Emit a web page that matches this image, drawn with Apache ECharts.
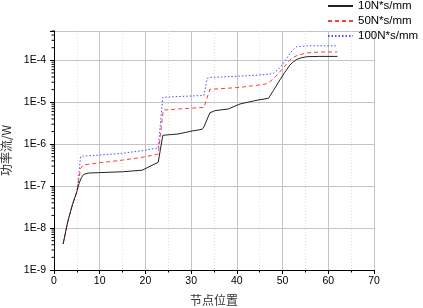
<!DOCTYPE html>
<html><head><meta charset="utf-8">
<script src="https://cdn.jsdelivr.net/npm/echarts@6/dist/echarts.min.js"></script>
<style>html,body{margin:0;padding:0;background:#fff}#c{width:423px;height:308px}</style>
</head><body><div id="c"></div>
<script>
const seriesNames = ['10N*s/mm', '50N*s/mm', '100N*s/mm'];
const xName = '节点位置';
const yName = '功率流/W';

const xBlack = [2, 3, 4, 5, 5.5, 6, 6.5, 7.5, 10, 15, 19.3, 22.8, 23.8, 27.1, 30.2, 32.4, 32.8, 34.1, 35.2, 38.1, 40.7, 44.6, 46.9, 48, 49.4, 50.5, 51.6, 52.4, 53.1, 54, 55.3, 58, 62];
const yBlack = [4.2e-9, 1.4e-8, 3.5e-8, 7.4e-8, 1.17e-7, 1.6e-7, 1.9e-7, 2.05e-7, 2.1e-7, 2.2e-7, 2.4e-7, 3.7e-7, 1.63e-6, 1.75e-6, 2.06e-6, 2.26e-6, 2.6e-6, 5.6e-6, 6.3e-6, 6.9e-6, 9.1e-6, 1.13e-5, 1.24e-5, 1.9e-5, 3.4e-5, 5.2e-5, 7.7e-5, 9.3e-5, 1.05e-4, 1.14e-4, 1.22e-4, 1.24e-4, 1.24e-4];

const xRed = [2, 3, 4, 5, 5.5, 5.8, 6.4, 10, 14.4, 19, 22.8, 23.9, 28, 32.8, 33.4, 34.1, 40.7, 46.2, 47.2, 48.3, 49.4, 50.5, 51.6, 52.5, 53.4, 55.3, 58, 62];
const yRed = [4.2e-9, 1.4e-8, 3.5e-8, 7.4e-8, 1.6e-7, 2.6e-7, 3.2e-7, 3.6e-7, 4.1e-7, 4.8e-7, 5.8e-7, 6.5e-6, 7.0e-6, 7.55e-6, 1.2e-5, 2.03e-5, 2.26e-5, 2.7e-5, 3.08e-5, 3.9e-5, 5.3e-5, 7.3e-5, 1.01e-4, 1.2e-4, 1.33e-4, 1.5e-4, 1.58e-4, 1.58e-4];

const xBlue = [2, 3, 4, 5, 5.5, 5.8, 6.4, 10, 14.4, 19, 22.8, 23.8, 28, 32.8, 33.5, 34.1, 40.7, 46.6, 48, 49.1, 50.2, 51.6, 52.4, 53.1, 55.3, 58, 62];
const yBlue = [4.2e-9, 1.4e-8, 3.5e-8, 7.4e-8, 2.2e-7, 5.0e-7, 5.2e-7, 5.5e-7, 6.0e-7, 6.9e-7, 8.2e-7, 1.31e-5, 1.38e-5, 1.45e-5, 3.7e-5, 3.9e-5, 4.2e-5, 4.6e-5, 4.9e-5, 6.2e-5, 8.5e-5, 1.46e-4, 1.85e-4, 2.1e-4, 2.22e-4, 2.22e-4, 2.22e-4];

const xTicks = [0, 10, 20, 30, 40, 50, 60, 70];
const yMin = 1e-9, yMax = 5e-4;
const yMinor = [];
for (let e = -9; e <= -4; e++) for (let m = 2; m <= 9; m++) { const v = m * Math.pow(10, e); if (v <= yMax) yMinor.push(v); }

function pairs(xs, ys) { return xs.map((x, i) => [x, ys[i]]); }

const chart = echarts.init(document.getElementById('c'), null, {renderer: 'canvas'});
const font = 'Liberation Sans, Arial, sans-serif';
const cjk = '"Noto Sans CJK SC", sans-serif';
chart.setOption({
  animation: false,
  grid: {left: 54, right: 49, top: 31, bottom: 38, containLabel: false, outerBoundsMode: 'none'},
  legend: {
    orient: 'vertical', left: 327, top: 0, padding: 0, itemGap: 3, itemWidth: 25, itemHeight: 11,
    textStyle: {fontFamily: font, fontSize: 11.5, color: '#000'},
    itemStyle: {opacity: 0},
    data: seriesNames
  },
  xAxis: {
    type: 'value', min: xTicks[0], max: xTicks[xTicks.length - 1], interval: 10,
    name: xName, nameLocation: 'middle', nameGap: 24,
    nameTextStyle: {fontFamily: cjk, fontSize: 12, color: '#333'},
    axisLine: {lineStyle: {color: '#000', width: 1}},
    axisTick: {show: true, length: 4, lineStyle: {color: '#000'}},
    minorTick: {show: true, splitNumber: 2, length: 2.5, lineStyle: {color: '#000'}},
    splitLine: {show: true, lineStyle: {color: '#c4c4c4', width: 1}},
    minorSplitLine: {show: true, lineStyle: {color: '#dedede', type: [1, 2]}},
    axisLabel: {fontFamily: font, fontSize: 10.5, color: '#000', margin: 6}
  },
  yAxis: {
    type: 'log', min: yMin, max: yMax, logBase: 10,
    name: yName, nameLocation: 'middle', nameGap: 40,
    nameTextStyle: {fontFamily: cjk, fontSize: 12, color: '#333'},
    axisLine: {show: true, lineStyle: {color: '#000', width: 1}},
    axisTick: {show: true, length: 4, lineStyle: {color: '#000'}},
    splitLine: {show: true, lineStyle: {color: '#c4c4c4', width: 1}},
    axisLabel: {fontFamily: font, fontSize: 10.5, color: '#000', margin: 8,
      formatter: v => {
        const e = Math.log10(v);
        return Math.abs(e - Math.round(e)) < 1e-6 ? '1E' + Math.round(e) : '';
      }}
  },
  series: [
    {name: seriesNames[0], type: 'line', symbol: 'none', z: 5, data: pairs(xBlack, yBlack),
     lineStyle: {color: '#222', width: 1}, itemStyle: {color: '#222'},
     markLine: {silent: true, symbol: 'none', label: {show: false}, z: 1,
       lineStyle: {color: '#dedede', type: [1, 2], width: 1},
       data: yMinor.map(v => ({yAxis: v}))}},
    {name: seriesNames[1], type: 'line', symbol: 'none', z: 4, data: pairs(xRed, yRed),
     lineStyle: {color: '#ff3b3b', width: 1, type: [4, 3]}, itemStyle: {color: '#ff3b3b'}},
    {name: seriesNames[2], type: 'line', symbol: 'none', z: 3, data: pairs(xBlue, yBlue),
     lineStyle: {color: '#4a4aff', width: 1, type: [1.5, 2]}, itemStyle: {color: '#4a4aff'}},
    {name: 'yMinorTicks', type: 'custom', clip: false, silent: true, z: 6,
     data: yMinor.map(v => [xTicks[0], v]),
     renderItem: (params, api) => {
       const p = api.coord([api.value(0), api.value(1)]);
       return {type: 'line', shape: {x1: p[0] - 2.5, y1: p[1], x2: p[0], y2: p[1]},
               style: {stroke: '#000', lineWidth: 1}};
     }}
  ]
});
</script></body></html>
